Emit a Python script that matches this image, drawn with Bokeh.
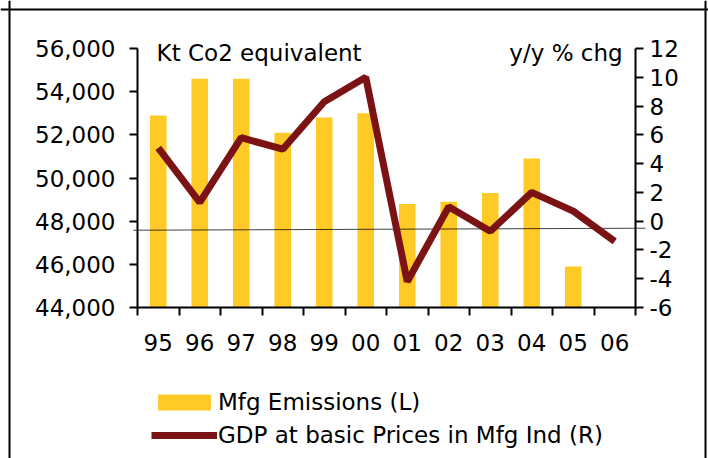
from bokeh.plotting import figure
from bokeh.models import (Range1d, LinearAxis, FixedTicker, NumeralTickFormatter, Label,
                          Legend, LegendItem, Span, ColumnDataSource)
from bokeh.embed import file_html
from bokeh.resources import INLINE

# ---------------- data ----------------
years = ["95", "96", "97", "98", "99", "00", "01", "02", "03", "04", "05", "06"]
emissions = [52900, 54600, 54600, 52100, 52800, 53000, 48800, 48900, 49300, 50900, 45900, float("nan")]
gdp_growth = [5.1, 1.3, 5.8, 5.0, 8.3, 10.0, -4.2, 1.0, -0.7, 2.0, 0.7, -1.4]
left_ticks = [44000, 46000, 48000, 50000, 52000, 54000, 56000]
right_ticks = [-6, -4, -2, 0, 2, 4, 6, 8, 10, 12]
ref_line_levels = [-0.63, -0.49]   # thin (slightly tilted) reference line, right-axis units

FONT = "DejaVu Sans"
FS = "23px"
BAR_COLOR = "#FFC926"
LINE_COLOR = "#7B1214"

n = len(years)
centers = [i + 0.5 for i in range(n)]          # category slot centres
bounds = list(range(n + 1))                     # category slot boundaries

src = ColumnDataSource(dict(x=centers, year=years, emissions=emissions, gdp=gdp_growth))

# ---------------- layout (canvas pixels) ----------------
W, H = 708, 458
AX_L, AX_R = 137, 635          # left / right axis x in canvas px
AX_T, AX_B = 48, 307           # top / bottom of value axes in canvas px
slot = (AX_R - AX_L) / n
lo, hi = left_ticks[0], left_ticks[-1]
ppu_l = (AX_B - AX_T) / (hi - lo)
rlo, rhi = right_ticks[0], right_ticks[-1]
ppu_r = (AX_B - AX_T) / (rhi - rlo)

x_range = Range1d(-AX_L / slot, (W - AX_L) / slot)
y_range = Range1d(lo - (H - AX_B) / ppu_l, hi + AX_T / ppu_l)
r_range = Range1d(rlo - (H - AX_B) / ppu_r, rhi + AX_T / ppu_r)

p = figure(x_range=x_range, y_range=y_range, width=W, height=H,
           output_backend="svg", toolbar_location=None,
           x_axis_location=None, y_axis_location=None,
           min_border=0, min_border_left=0, min_border_right=0,
           min_border_top=0, min_border_bottom=0)
p.outline_line_color = None
p.xgrid.visible = False
p.ygrid.visible = False
p.background_fill_color = "white"
p.border_fill_color = "white"
p.extra_y_ranges = {"right": r_range}

def style_axis(ax):
    ax.axis_line_width = 2
    ax.axis_line_color = "black"
    ax.major_tick_line_width = 2
    ax.major_tick_line_color = "black"
    ax.major_tick_out = 8
    ax.major_tick_in = 0
    ax.minor_tick_line_color = None
    ax.major_label_text_font = FONT
    ax.major_label_text_font_size = FS
    ax.major_label_text_color = "black"

ly = LinearAxis(ticker=FixedTicker(ticks=left_ticks), fixed_location=0, bounds=(lo, hi))
ly.formatter = NumeralTickFormatter(format="0,0")
style_axis(ly)
ly.major_label_standoff = 14
p.add_layout(ly, "left")

ry = LinearAxis(y_range_name="right", ticker=FixedTicker(ticks=right_ticks),
                fixed_location=n, bounds=(rlo, rhi))
style_axis(ry)
ry.major_label_standoff = 6
ry.major_label_overrides = {t: str(t) for t in right_ticks}
p.add_layout(ry, "right")

# bottom axis: labels at slot centres, tick marks at slot boundaries (minor ticks)
bx = LinearAxis(ticker=FixedTicker(ticks=centers, minor_ticks=bounds),
                fixed_location=lo, bounds=(0, n))
style_axis(bx)
bx.major_tick_line_color = None
bx.minor_tick_line_color = "black"
bx.minor_tick_line_width = 2
bx.minor_tick_out = 8
bx.minor_tick_in = 0
bx.major_label_overrides = {c: y for c, y in zip(centers, years)}
bx.major_label_standoff = 18
p.add_layout(bx, "below")

bars = p.vbar(x="x", top="emissions", bottom=lo, width=0.4, source=src,
              fill_color=BAR_COLOR, line_color=None)
p.segment(x0=[-0.1], y0=[ref_line_levels[0]], x1=[n + 0.24], y1=[ref_line_levels[1]],
          y_range_name="right", line_color="black", line_width=1, line_alpha=0.75)
line = p.line(x="x", y="gdp", y_range_name="right", source=src,
              line_color=LINE_COLOR, line_width=7)

p.add_layout(Label(x=0.46, y=55800, text="Kt Co2 equivalent",
                   text_font=FONT, text_font_size=FS, text_color="black",
                   text_baseline="alphabetic", text_align="left"))
p.add_layout(Label(x=11.69, y=55800, text="y/y % chg",
                   text_font=FONT, text_font_size=FS, text_color="black",
                   text_baseline="alphabetic", text_align="right"))

legend = Legend(items=[LegendItem(label="Mfg Emissions (L)", renderers=[bars]),
                       LegendItem(label="GDP at basic Prices in Mfg Ind (R)", renderers=[line])],
                location=(151, 10), orientation="vertical",
                glyph_width=66, glyph_height=20, label_height=20, spacing=7,
                label_standoff=1, padding=0, margin=0,
                border_line_color=None, background_fill_alpha=0,
                label_text_font=FONT, label_text_font_size=FS, label_text_color="black")
p.add_layout(legend)

# outer border (left, top, right) in screen units
for loc, dim in [(9, "height"), (705, "height"), (H - 9, "width")]:
    p.add_layout(Span(location=loc, location_units="screen", dimension=dim,
                      line_color="black", line_width=2))

open("out.html", "w").write(file_html(p, INLINE))
